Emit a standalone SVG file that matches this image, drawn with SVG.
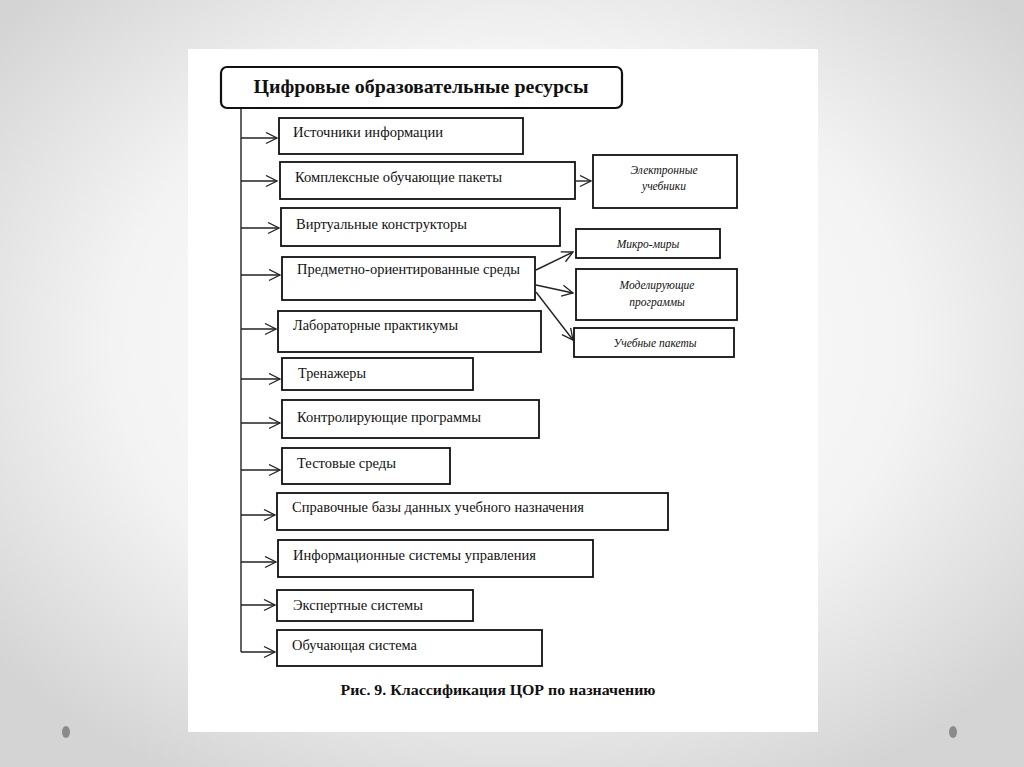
<svg xmlns="http://www.w3.org/2000/svg" width="1024" height="767" viewBox="0 0 1024 767">
<defs>
<radialGradient id="bg" cx="50%" cy="45%" r="65%">
<stop offset="0" stop-color="#ffffff"/>
<stop offset="0.6" stop-color="#f3f3f3"/>
<stop offset="1" stop-color="#d4d4d4"/>
</radialGradient>
<marker id="ah" markerWidth="14" markerHeight="14" refX="12" refY="6" orient="auto" markerUnits="userSpaceOnUse">
<path d="M1,0.5 L12,6 L1,11.5" fill="none" stroke="#222" stroke-width="1.3"/>
</marker>
<style>
.box{fill:#fff;stroke:#111;stroke-width:1.8}
.t{font-family:"Liberation Serif","Times New Roman",serif;font-size:14px;fill:#111}
.it{font-family:"Liberation Serif","Times New Roman",serif;font-size:11.5px;font-style:italic;fill:#111;text-anchor:middle}
.con{fill:none;stroke:#222;stroke-width:1.4}
</style>
</defs>
<rect x="0" y="0" width="1024" height="767" fill="url(#bg)"/>
<rect x="188" y="49" width="630" height="683" fill="#fff"/>
<ellipse cx="66" cy="732" rx="4" ry="6" fill="#8a8a8a"/>
<ellipse cx="953" cy="732" rx="4" ry="6" fill="#8a8a8a"/>

<g id="connectors">
<path class="con" d="M241,108 V652"/>
<line class="con" x1="241" y1="138" x2="277" y2="138" marker-end="url(#ah)"/>
<line class="con" x1="241" y1="181" x2="277" y2="181" marker-end="url(#ah)"/>
<line class="con" x1="241" y1="228" x2="279" y2="228" marker-end="url(#ah)"/>
<line class="con" x1="241" y1="275" x2="280" y2="275" marker-end="url(#ah)"/>
<line class="con" x1="241" y1="329" x2="276" y2="329" marker-end="url(#ah)"/>
<line class="con" x1="241" y1="379" x2="280" y2="379" marker-end="url(#ah)"/>
<line class="con" x1="241" y1="423" x2="280" y2="423" marker-end="url(#ah)"/>
<line class="con" x1="241" y1="470" x2="280" y2="470" marker-end="url(#ah)"/>
<line class="con" x1="241" y1="515" x2="275" y2="515" marker-end="url(#ah)"/>
<line class="con" x1="241" y1="562" x2="276" y2="562" marker-end="url(#ah)"/>
<line class="con" x1="241" y1="605" x2="275" y2="605" marker-end="url(#ah)"/>
<line class="con" x1="241" y1="652" x2="275" y2="652" marker-end="url(#ah)"/>
<line class="con" x1="576" y1="181" x2="591" y2="181" marker-end="url(#ah)"/>
<line class="con" x1="536" y1="270" x2="573" y2="252" marker-end="url(#ah)"/>
<line class="con" x1="536" y1="285" x2="573" y2="293" marker-end="url(#ah)"/>
<line class="con" x1="536" y1="292" x2="573" y2="340" marker-end="url(#ah)"/>
</g>

<g id="title">
<rect x="221" y="67" width="401" height="41" rx="6" fill="#fff" stroke="#111" stroke-width="2.2"/>
<text x="421" y="93" text-anchor="middle" font-family="Liberation Serif, Times New Roman, serif" font-size="19" font-weight="bold" fill="#111" textLength="335" lengthAdjust="spacingAndGlyphs">Цифровые образовательные ресурсы</text>
</g>

<g id="n1"><rect class="box" x="279" y="118" width="244" height="36"/><text class="t" x="293" y="137" textLength="150" lengthAdjust="spacingAndGlyphs">Источники информации</text></g>
<g id="n2"><rect class="box" x="280" y="162" width="295" height="37"/><text class="t" x="295" y="182" textLength="207" lengthAdjust="spacingAndGlyphs">Комплексные обучающие пакеты</text></g>
<g id="n3"><rect class="box" x="281" y="208" width="279" height="38"/><text class="t" x="296" y="229" textLength="171" lengthAdjust="spacingAndGlyphs">Виртуальные конструкторы</text></g>
<g id="n4"><rect class="box" x="282" y="257" width="253" height="43"/><text class="t" x="297" y="274" textLength="223" lengthAdjust="spacingAndGlyphs">Предметно-ориентированные среды</text></g>
<g id="n5"><rect class="box" x="278" y="311" width="263" height="41"/><text class="t" x="293" y="330" textLength="165" lengthAdjust="spacingAndGlyphs">Лабораторные практикумы</text></g>
<g id="n6"><rect class="box" x="282" y="358" width="191" height="32"/><text class="t" x="298" y="378" textLength="68" lengthAdjust="spacingAndGlyphs">Тренажеры</text></g>
<g id="n7"><rect class="box" x="282" y="400" width="257" height="38"/><text class="t" x="297" y="422" textLength="184" lengthAdjust="spacingAndGlyphs">Контролирующие программы</text></g>
<g id="n8"><rect class="box" x="282" y="448" width="168" height="36"/><text class="t" x="297" y="468" textLength="99" lengthAdjust="spacingAndGlyphs">Тестовые среды</text></g>
<g id="n9"><rect class="box" x="277" y="493" width="391" height="37"/><text class="t" x="292" y="512" textLength="292" lengthAdjust="spacingAndGlyphs">Справочные базы данных учебного назначения</text></g>
<g id="n10"><rect class="box" x="278" y="540" width="315" height="37"/><text class="t" x="293" y="560" textLength="243" lengthAdjust="spacingAndGlyphs">Информационные системы управления</text></g>
<g id="n11"><rect class="box" x="277" y="590" width="196" height="31"/><text class="t" x="293" y="610" textLength="130" lengthAdjust="spacingAndGlyphs">Экспертные системы</text></g>
<g id="n12"><rect class="box" x="277" y="630" width="265" height="36"/><text class="t" x="292" y="650" textLength="125" lengthAdjust="spacingAndGlyphs">Обучающая система</text></g>

<g id="r1"><rect class="box" x="593" y="155" width="144" height="53"/><text class="it" x="664" y="174">Электронные</text><text class="it" x="664" y="190">учебники</text></g>
<g id="r2"><rect class="box" x="576" y="229" width="144" height="29"/><text class="it" x="648" y="248">Микро-миры</text></g>
<g id="r3"><rect class="box" x="576" y="269" width="161" height="51"/><text class="it" x="657" y="289">Моделирующие</text><text class="it" x="657" y="306">программы</text></g>
<g id="r4"><rect class="box" x="574" y="328" width="160" height="29"/><text class="it" x="655" y="347">Учебные пакеты</text></g>

<text x="498" y="695" text-anchor="middle" font-family="Liberation Serif, Times New Roman, serif" font-size="15" font-weight="bold" fill="#111" textLength="315" lengthAdjust="spacingAndGlyphs">Рис. 9. Классификация ЦОР по назначению</text>
</svg>
